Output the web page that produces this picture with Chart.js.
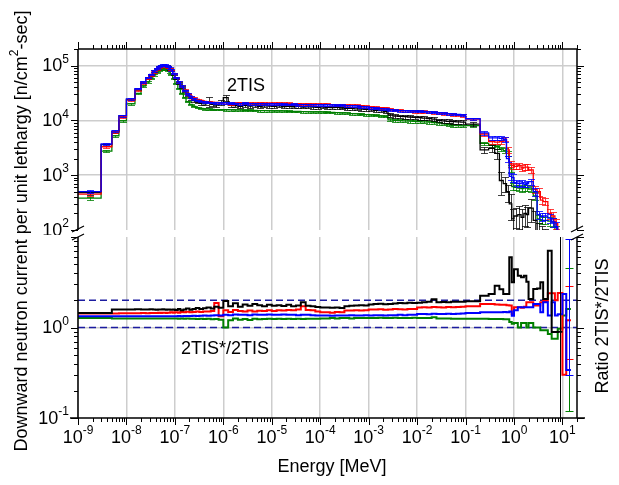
<!DOCTYPE html>
<html><head><meta charset="utf-8">
<script src="https://cdn.jsdelivr.net/npm/chart.js@4/dist/chart.umd.min.js"></script>
<style>
html,body{margin:0;padding:0;background:#fff;}
#wrap{position:relative;width:619px;height:485px;overflow:hidden;}
#wrap canvas{position:absolute;left:0;top:0;}
</style></head><body>
<div id="wrap">
<canvas id="cBot" width="619" height="485"></canvas>
<canvas id="cTop" width="619" height="235"></canvas>
</div>
<script>
// ---------------- DATA ----------------
// energy group boundaries [MeV]
const edges = [
 1e-9,3e-9,5e-9,7e-9,1e-8,1.5e-8,2e-8,2.5e-8,3e-8,3.5e-8,4e-8,4.5e-8,5e-8,5.5e-8,6e-8,6.5e-8,7e-8,7.5e-8,8e-8,9e-8,
 1e-7,1.15e-7,1.3e-7,1.5e-7,1.7e-7,2e-7,2.3e-7,2.7e-7,3.2e-7,3.8e-7,4.5e-7,5.5e-7,6.5e-7,8e-7,1e-6,
 1.26e-6,1.58e-6,2e-6,2.51e-6,3.16e-6,3.98e-6,5.01e-6,6.31e-6,7.94e-6,1e-5,
 1.26e-5,1.58e-5,2e-5,2.51e-5,3.16e-5,3.98e-5,5.01e-5,6.31e-5,7.94e-5,1e-4,
 1.26e-4,1.58e-4,2e-4,2.51e-4,3.16e-4,3.98e-4,5.01e-4,6.31e-4,7.94e-4,1e-3,
 1.26e-3,1.58e-3,2e-3,2.51e-3,3.16e-3,3.98e-3,5.01e-3,6.31e-3,7.94e-3,1e-2,
 1.26e-2,1.58e-2,2e-2,2.51e-2,3.16e-2,3.98e-2,5.01e-2,6.31e-2,7.94e-2,0.1,
 0.2,0.3,0.4,0.5,0.6,0.7,0.8,0.9,1.0,1.2,1.4,1.6,1.8,2.0,2.5,3.0,3.5,4.0,5.0,6.0,7.0,8.0,10,12,15
];

// 2TIS: downward neutron current per unit lethargy [n/cm2-sec]
const fluxBlue = [
 500,3700,6400,12200,24700,38000,50000,60000,69000,79000,88000,96000,100000,103000,103000,100000,96000,90000,83000,72000,
 60000,50000,42000,35000,30000,26500,24500,23000,22200,21700,21300,21000,20800,20700,
 20800,20500,20300,20200,20400,20000,20100,19900,20000,19800,
 19700,19800,19600,19500,19600,19400,19300,19400,19200,19100,
 19000,19100,18900,18800,18700,18600,18400,18200,17800,17400,
 17000,16600,16300,16000,15500,15200,15000,14900,14800,14700,
 14600,14500,14300,14000,13700,13500,13300,13000,12800,12500,
 10700,5900,4800,4800,4700,4500,2000,950,900,720,700,720,680,700,760,500,190,175,180,165,140,115,60,40,30
];
const fluxRed = [
 450,3300,6100,11600,23300,36000,48000,57500,66000,76000,85000,93000,97000,99000,99000,97000,93000,88000,81000,71000,
 60000,50500,42500,36000,31000,27500,25500,24000,23000,22200,21700,21400,21200,21000,
 21000,20000,20500,20800,21000,20600,20400,20500,20300,20200,
 20300,20500,20400,20200,20000,20100,19800,19900,19700,19600,
 19500,19600,19300,19200,19000,18900,18700,18800,18500,18000,
 17500,17200,17000,16800,16000,15600,15300,15000,14900,14600,
 14500,14400,14200,14000,13600,13300,13000,12800,12500,12200,
 10500,5600,4100,4000,4100,4600,2900,1600,1500,1450,1500,1350,1400,1400,1250,550,500,350,330,200,180,130,80,40,35
];
const fluxBlack = [
 480,3600,6200,12000,24000,37000,49000,59000,68000,78000,87000,94000,98000,100000,100000,98000,94000,88000,81000,70000,
 58000,48000,40000,34000,29000,25000,23000,21500,20500,20000,22000,19500,19000,21000,
 26000,19000,18500,18000,18800,18200,18600,18000,18400,18200,
 18000,18300,17800,18000,17700,17900,17500,17600,17400,17300,
 17500,17200,17000,17200,16800,16600,16500,16200,16000,15800,
 15500,15200,15000,14500,12500,12000,11800,11700,11500,11300,
 11200,11000,10800,10500,10000,9800,9600,9500,9400,9300,
 8500,2900,3100,2500,800,700,500,300,160,180,190,170,200,190,250,150,90,80,70,60,50,45,40,20,15
];
const fluxGreen = [
 380,2750,5200,9800,20000,31000,42000,50000,58000,67000,75000,81000,85000,87000,87000,85000,81000,76000,69000,58000,
 47000,38000,31000,26000,22000,19500,18000,17000,16500,16200,16000,15800,15700,15600,
 15600,15500,15400,15300,15200,15200,15100,15000,15000,14900,
 14800,14800,14700,14600,14500,14500,14400,14300,14200,14200,
 14100,14000,13900,13800,13600,13500,13300,13100,12900,12700,
 12500,12300,12000,11800,10200,10000,9900,9800,9700,9600,
 9500,9400,9300,9100,8900,8600,8300,8100,8000,7900,
 8000,3800,3500,3300,3000,2800,2500,1350,620,600,580,570,590,580,560,420,160,150,150,145,140,100,55,40,30
];

// relative statistical uncertainties [%]
const errBlue = [
 6,4,4,4,3,3,3,3,3,3,3,3,3,3,3,3,3,3,3,3, 3,3,3,3,3,3,3,3,3,3,3,3,3,3,
 4,4,4,4,4,4,4,4,4,4, 4,4,4,4,4,4,4,4,4,4, 4,4,4,4,4,4,4,4,4,4, 4,4,4,4,4,4,4,4,4,4, 4,4,4,4,4,4,4,4,4,4,
 5,7,8,8,8,10,12,15,15,12,12,12,12,12,12,15,15,15,15,20,20,20,20,20,20
];
const errRed = [
 6,4,4,4,3,3,3,3,3,3,3,3,3,3,3,3,3,3,3,3, 3,3,3,3,3,3,3,3,3,3,3,3,3,3,
 5,5,5,5,5,5,5,5,5,5, 5,5,5,5,5,5,5,5,5,5, 5,5,5,5,5,5,5,5,5,5, 5,5,5,5,5,5,5,5,5,5, 5,5,5,5,5,5,5,5,5,5,
 5,7,8,8,8,10,12,12,12,12,12,12,12,12,12,15,15,15,15,20,20,20,20,20,20
];
const errBlack = [
 8,5,5,5,4,4,4,4,4,4,4,4,4,4,4,4,4,4,4,4, 4,4,4,4,4,5,5,5,6,6,20,6,6,10,
 12,6,6,6,6,6,6,6,6,6, 6,6,6,6,6,6,6,6,6,6, 6,6,6,6,6,6,6,6,6,6, 6,6,6,6,8,8,8,8,8,8, 8,8,8,8,8,8,8,8,8,8,
 8,12,15,20,45,30,35,50,50,40,45,40,40,40,45,50,50,50,50,50,50,50,50,50,50
];
const errGreen = [
 6,4,4,4,3,3,3,3,3,3,3,3,3,3,3,3,3,3,3,3, 3,3,3,3,3,3,3,3,3,3,3,3,3,3,
 4,4,4,4,4,4,4,4,4,4, 4,4,4,4,4,4,4,4,4,4, 4,4,4,4,4,4,4,4,4,4, 4,4,4,4,6,6,6,6,6,6, 6,6,6,6,6,6,6,6,6,6,
 5,7,8,8,8,10,12,15,15,12,12,12,12,12,12,15,15,15,15,20,20,20,20,20,20
];

// ratio 2TIS*/2TIS
const ratioBlack = [
 1.45,1.45,1.58,1.58,1.58,1.59,1.58,1.58,1.59,1.58,1.57,1.58,1.58,1.59,1.58,1.57,1.58,1.58,1.57,1.58,
 1.56,1.6,1.55,1.58,1.62,1.57,1.6,1.64,1.6,1.63,1.66,1.62,1.7,1.65,
 1.96,1.72,1.85,1.7,1.8,1.74,1.82,1.76,1.72,1.78,
 1.74,1.76,1.73,1.78,1.72,1.75,1.9,1.74,1.72,1.68,
 1.66,1.66,1.65,1.66,1.64,1.72,1.74,1.75,1.76,1.75,
 1.8,1.82,1.83,1.81,1.82,1.84,1.86,1.85,1.88,1.87,
 1.88,1.9,1.92,2.05,1.9,1.91,1.9,1.92,1.93,1.92,
 1.95,2.25,2.35,2.9,2.65,2.35,2.35,5.96,3.16,4.4,3.74,3.6,3.74,3.2,2.07,2.66,2.7,3.16,2.07,7.06,0.89,0.89,0.9,null,null
];
const ratioRed = [
 1.43,1.43,1.43,1.44,1.44,1.44,1.45,1.44,1.45,1.45,1.45,1.46,1.45,1.46,1.46,1.45,1.46,1.46,1.47,1.46,
 1.47,1.46,1.48,1.47,1.49,1.47,1.48,1.5,1.48,1.5,1.5,1.52,1.87,1.33,
 1.55,1.48,1.56,1.52,1.5,1.54,1.5,1.53,1.52,1.55,
 1.52,1.55,1.54,1.56,1.55,1.58,1.72,1.56,1.55,1.5,
 1.47,1.47,1.46,1.48,1.47,1.54,1.54,1.55,1.54,1.55,
 1.58,1.58,1.59,1.57,1.58,1.6,1.59,1.58,1.6,1.6,
 1.66,1.67,1.66,1.68,1.67,1.66,1.68,1.67,1.69,1.7,
 1.72,1.82,1.82,1.8,1.78,1.78,1.76,1.75,1.41,1.67,1.67,1.65,1.7,1.9,1.9,1.75,1.75,1.9,1.96,2.39,2.39,2.0,2.4,0.3,1.2
];
const ratioBlue = [
 1.33,1.33,1.33,1.33,1.33,1.33,1.33,1.33,1.33,1.33,1.33,1.33,1.33,1.33,1.33,1.33,1.33,1.33,1.33,1.33,
 1.33,1.34,1.33,1.34,1.34,1.34,1.35,1.34,1.35,1.36,1.35,1.36,1.37,1.36,
 1.38,1.37,1.39,1.38,1.38,1.37,1.39,1.38,1.38,1.39,
 1.38,1.38,1.39,1.38,1.38,1.37,1.38,1.38,1.37,1.36,
 1.36,1.36,1.35,1.36,1.36,1.36,1.37,1.36,1.36,1.37,
 1.36,1.37,1.37,1.36,1.37,1.37,1.38,1.37,1.38,1.38,
 1.41,1.41,1.4,1.42,1.41,1.41,1.42,1.41,1.42,1.43,
 1.45,1.47,1.47,1.47,1.47,1.48,1.47,1.5,1.35,1.55,1.67,1.67,1.67,1.67,1.67,1.82,1.82,1.47,1.9,1.36,1.9,1.36,1.4,2.35,0.34
];
const ratioGreen = [
 1.27,1.27,1.26,1.26,1.26,1.26,1.26,1.26,1.26,1.26,1.26,1.26,1.26,1.26,1.26,1.26,1.26,1.26,1.26,1.26,
 1.26,1.25,1.26,1.25,1.26,1.25,1.25,1.24,1.25,1.24,1.25,1.23,1.24,1.22,
 1.0,1.2,1.26,1.22,1.24,1.21,1.25,1.23,1.24,1.25,
 1.24,1.25,1.24,1.25,1.24,1.25,1.24,1.25,1.25,1.25,
 1.26,1.26,1.27,1.26,1.27,1.27,1.26,1.27,1.27,1.27,
 1.27,1.27,1.28,1.27,1.27,1.28,1.27,1.27,1.27,1.28,
 1.27,1.27,1.27,1.3,1.26,1.26,1.26,1.25,1.25,1.25,
 1.25,1.25,1.24,1.24,1.24,1.23,1.23,1.15,1.1,1.12,1.0,1.12,1.12,1.0,1.12,1.0,1.0,0.93,0.93,0.85,0.75,0.75,0.97,1.36,1.6
];
// ratio error bars: [bin index, low, high]
const ratioErrBlack = [[106, 0.01, 100]];
const ratioErrRed   = [[108, 0.45, 2.9]];
const ratioErrBlue  = [[108, 0.3, 9.5]];
const ratioErrGreen = [[108, 0.12, 4.6]];
const refLevels = [1, 2];

// axes / tick labels
const xRange = [1e-9, 20];
const xTickExps = ['-9','-8','-7','-6','-5','-4','-3','-2','-1','0','1'];
const yTopRange = [100, 2e5];
const yTopTickExps = ['2','3','4','5'];
const yBotRange = [0.1, 10];
const yBotTickExps = ['-1','0'];

// ---------------- HELPERS ----------------
const FONT = '"Liberation Sans", Arial, Helvetica, sans-serif';
const C = {black:'#000000', red:'#ff0000', blue:'#0000ff', green:'#008000', dash:'#1c1ca0', grid:'#cdcdcd'};
const CE = {black:'rgba(0,0,0,0.75)', red:'rgba(255,0,0,0.75)', blue:'rgba(0,0,255,0.8)', green:'rgba(0,128,0,0.8)'};

function stepPoints(vals){
  const pts = [], n = vals.length;
  for (let i = 0; i < n; i++){
    if (vals[i] == null) continue;
    pts.push({x: edges[i], y: vals[i]});
    if (i === n-1 || vals[i+1] == null){
      pts.push({x: edges[i+1], y: vals[i]});
      if (i < n-1) pts.push({x: edges[i+1], y: null});
    }
  }
  return pts;
}
function ctr(i){ return Math.sqrt(edges[i]*edges[i+1]); }
function errList(vals, pct){
  return vals.map((v,i) => ({c: ctr(i), lo: v*(1-pct[i]/100), hi: v*(1+pct[i]/100)}));
}
function errFromTable(tab){ return tab.map(r => ({c: ctr(r[0]), lo: r[1], hi: r[2]})); }

const errPlugin = {
  id: 'errbars',
  afterDatasetDraw(chart, args){
    const ds = chart.data.datasets[args.index];
    if (!ds.errs) return;
    const {ctx, chartArea: a} = chart;
    const xs = chart.scales.x, ys = chart.scales.y;
    ctx.save();
    ctx.beginPath(); ctx.rect(a.left, a.top, a.right - a.left, a.bottom - a.top); ctx.clip();
    ctx.strokeStyle = ds.errColor; ctx.lineWidth = 1;
    const hw = ds.capHalf || 3.5;
    ctx.beginPath();
    for (const e of ds.errs){
      const px = Math.round(xs.getPixelForValue(e.c)) + 0.5;
      const p1 = Math.round(ys.getPixelForValue(e.lo)) + 0.5;
      const p2 = Math.round(ys.getPixelForValue(e.hi)) + 0.5;
      ctx.moveTo(px, p1); ctx.lineTo(px, p2);
      ctx.moveTo(px - hw, p1); ctx.lineTo(px + hw, p1);
      ctx.moveTo(px - hw, p2); ctx.lineTo(px + hw, p2);
    }
    ctx.stroke();
    ctx.restore();
  }
};

function drawPow(ctx, exp, x, y, align){
  ctx.font = '18px ' + FONT; const w1 = ctx.measureText('10').width;
  ctx.font = '12px ' + FONT; const w2 = ctx.measureText(exp).width;
  const tot = w1 + w2;
  const x0 = align === 'right' ? x - tot : (align === 'center' ? x - tot/2 : x);
  ctx.textAlign = 'left'; ctx.textBaseline = 'middle'; ctx.fillStyle = '#000';
  ctx.font = '18px ' + FONT; ctx.fillText('10', x0, y);
  ctx.font = '12px ' + FONT; ctx.fillText(exp, x0 + w1, y - 7);
}
function drawRich(ctx, parts, cx, cy, rot, size){
  ctx.save(); ctx.translate(cx, cy); ctx.rotate(rot);
  ctx.fillStyle = '#000'; ctx.textBaseline = 'middle'; ctx.textAlign = 'left';
  const ws = parts.map(p => { ctx.font = (p.sup ? Math.round(size*0.65) : size) + 'px ' + FONT; return ctx.measureText(p.t).width; });
  let x = -ws.reduce((s,w) => s + w, 0) / 2;
  parts.forEach((p,i) => {
    ctx.font = (p.sup ? Math.round(size*0.65) : size) + 'px ' + FONT;
    ctx.fillText(p.t, x, p.sup ? -size*0.38 : 0);
    x += ws[i];
  });
  ctx.restore();
}
function logTickVals(lo, hi){
  const out = [];
  for (let d = Math.floor(Math.log10(lo)); d <= Math.ceil(Math.log10(hi)); d++){
    for (let m = 1; m <= 9; m++){
      const v = m * Math.pow(10, d);
      if (v >= lo*0.9999 && v <= hi*1.0001) out.push({v, major: m === 1});
    }
  }
  return out;
}
function line(ctx, x1, y1, x2, y2){ ctx.moveTo(x1, y1); ctx.lineTo(x2, y2); }

function xTicks(ctx, xs, yLine, dir){
  for (const t of logTickVals(xRange[0], xRange[1])){
    const px = Math.round(xs.getPixelForValue(t.v)) + 0.5;
    line(ctx, px, yLine, px, yLine + dir * (t.major ? 7 : 4));
  }
}
function yTicks(ctx, ys, xLine, dir, lo, hi){
  for (const t of logTickVals(lo, hi)){
    const py = Math.round(ys.getPixelForValue(t.v)) + 0.5;
    line(ctx, xLine, py, xLine + dir * (t.major ? 7 : 4), py);
  }
}

function baseScales(yRange, gridVals, xPos, xH){
  return {
    x: {type: 'logarithmic', position: xPos, min: xRange[0], max: xRange[1],
        afterBuildTicks: s => { s.ticks = xTickExps.map(e => ({value: Math.pow(10, +e)})); },
        afterFit: s => { s.height = xH; },
        grid: {color: C.grid, lineWidth: 1.5, drawTicks: false},
        border: {display: false}, ticks: {display: false}},
    y: {type: 'logarithmic', position: 'left', min: yRange[0], max: yRange[1],
        afterBuildTicks: s => { s.ticks = gridVals.map(v => ({value: v})); },
        afterFit: s => { s.width = 78; },
        grid: {color: C.grid, lineWidth: 1.5, drawTicks: false},
        border: {display: false}, ticks: {display: false}}
  };
}

// ---------------- TOP PANEL ----------------
function fluxDs(label, vals, pct, key){
  return {label, data: stepPoints(vals), borderColor: C[key], borderWidth: 1.3, stepped: true,
          pointRadius: 0, fill: false, clip: 0, spanGaps: false,
          errs: errList(vals, pct), errColor: CE[key]};
}
const topAxes = {
  id: 'topAxes',
  afterDraw(chart){
    const {ctx, chartArea: a} = chart; const xs = chart.scales.x, ys = chart.scales.y;
    ctx.save(); ctx.strokeStyle = '#000'; ctx.lineWidth = 1.5; ctx.beginPath();
    line(ctx, a.left, a.top, a.right, a.top);
    line(ctx, a.left, a.top, a.left, a.bottom);
    line(ctx, a.right, a.top, a.right, a.bottom);
    ctx.stroke();
    ctx.lineWidth = 1; ctx.beginPath();
    xTicks(ctx, xs, a.top, -1);
    yTicks(ctx, ys, a.left, -1, yTopRange[0], yTopRange[1]);
    yTicks(ctx, ys, a.right, 1, yTopRange[0], yTopRange[1]);
    ctx.stroke();
    ctx.lineWidth = 1.3; ctx.beginPath();
    line(ctx, a.left - 6, a.bottom + 2, a.left + 6, a.bottom - 4);
    line(ctx, a.right - 6, a.bottom + 2, a.right + 6, a.bottom - 4);
    ctx.stroke();
    for (const e of yTopTickExps){
      drawPow(ctx, e, a.left - 9, ys.getPixelForValue(Math.pow(10, +e)) + 1, 'right');
    }
    ctx.fillStyle = '#000'; ctx.font = '18px ' + FONT; ctx.textAlign = 'center'; ctx.textBaseline = 'middle';
    ctx.fillText('2TIS', 246, 86);
    ctx.restore();
  }
};
new Chart(document.getElementById('cTop'), {
  type: 'line',
  data: {datasets: [
    fluxDs('2TIS blue', fluxBlue, errBlue, 'blue'),
    fluxDs('2TIS red', fluxRed, errRed, 'red'),
    fluxDs('2TIS black', fluxBlack, errBlack, 'black'),
    fluxDs('2TIS green', fluxGreen, errGreen, 'green')
  ]},
  options: {
    responsive: false, animation: false, devicePixelRatio: 1,
    layout: {padding: {left: 0, right: 42, top: 0, bottom: 5}},
    plugins: {legend: {display: false}, tooltip: {enabled: false}},
    scales: baseScales(yTopRange, [1e3, 1e4, 1e5], 'top', 49)
  },
  plugins: [errPlugin, topAxes]
});

// ---------------- BOTTOM PANEL ----------------
function ratioDs(label, vals, tab, key){
  return {label, data: stepPoints(vals), borderColor: C[key], borderWidth: 2, stepped: true,
          pointRadius: 0, fill: false, clip: 0, spanGaps: false,
          errs: errFromTable(tab), errColor: C[key], capHalf: 4};
}
function refDs(v){
  return {label: 'ref ' + v, data: [{x: xRange[0], y: v}, {x: xRange[1], y: v}], borderColor: C.dash,
          borderWidth: 1.5, borderDash: [7, 4], pointRadius: 0, fill: false, clip: 0};
}
const botAxes = {
  id: 'botAxes',
  afterDraw(chart){
    const {ctx, chartArea: a} = chart; const xs = chart.scales.x, ys = chart.scales.y;
    ctx.save(); ctx.strokeStyle = '#000'; ctx.lineWidth = 1.5; ctx.beginPath();
    line(ctx, a.left - 8, a.bottom, a.right + 8, a.bottom);
    line(ctx, a.left, a.top, a.left, a.bottom);
    line(ctx, a.right, a.top, a.right, a.bottom);
    ctx.stroke();
    ctx.lineWidth = 1; ctx.beginPath();
    xTicks(ctx, xs, a.bottom, 1);
    yTicks(ctx, ys, a.left, -1, yBotRange[0], yBotRange[1]);
    yTicks(ctx, ys, a.right, 1, yBotRange[0], yBotRange[1]);
    ctx.stroke();
    ctx.lineWidth = 1.3; ctx.beginPath();
    line(ctx, a.left - 6, a.top + 3, a.left + 6, a.top - 3);
    line(ctx, a.right - 6, a.top + 3, a.right + 6, a.top - 3);
    ctx.stroke();
    for (const e of yBotTickExps){
      drawPow(ctx, e, a.left - 9, ys.getPixelForValue(Math.pow(10, +e)) + 1, 'right');
    }
    for (const e of xTickExps){
      drawPow(ctx, e, xs.getPixelForValue(Math.pow(10, +e)), a.bottom + 20, 'center');
    }
    ctx.fillStyle = '#000'; ctx.font = '18px ' + FONT; ctx.textAlign = 'center'; ctx.textBaseline = 'middle';
    ctx.fillText('2TIS*/2TIS', 225, 349);
    ctx.fillText('Energy [MeV]', 332, 467);
    drawRich(ctx, [{t: 'Downward neutron current per unit lethargy [n/cm'}, {t: '2', sup: true}, {t: '-sec]'}],
             22, 231, -Math.PI/2, 18);
    drawRich(ctx, [{t: 'Ratio 2TIS*/2TIS'}], 603, 326, -Math.PI/2, 18);
    ctx.restore();
  }
};
new Chart(document.getElementById('cBot'), {
  type: 'line',
  data: {datasets: [
    ratioDs('ratio black', ratioBlack, ratioErrBlack, 'black'),
    ratioDs('ratio blue', ratioBlue, ratioErrBlue, 'blue'),
    ratioDs('ratio red', ratioRed, ratioErrRed, 'red'),
    ratioDs('ratio green', ratioGreen, ratioErrGreen, 'green'),
    refDs(refLevels[0]), refDs(refLevels[1])
  ]},
  options: {
    responsive: false, animation: false, devicePixelRatio: 1,
    layout: {padding: {left: 0, right: 42, top: 237, bottom: 0}},
    plugins: {legend: {display: false}, tooltip: {enabled: false}},
    scales: baseScales(yBotRange, [1], 'bottom', 67)
  },
  plugins: [errPlugin, botAxes]
});
</script>
</body></html>
